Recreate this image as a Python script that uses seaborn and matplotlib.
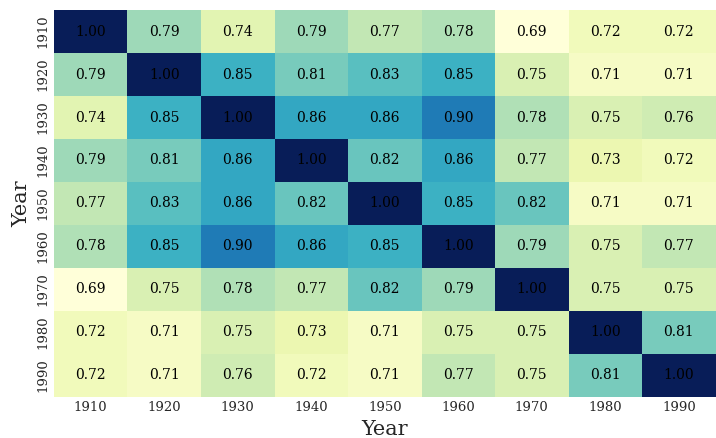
import numpy as np
import pandas as pd
import matplotlib
matplotlib.use("Agg")
import matplotlib.pyplot as plt
import seaborn as sns

years = ["1910", "1920", "1930", "1940", "1950", "1960", "1970", "1980", "1990"]
r1910 = [1.00, 0.79, 0.74, 0.79, 0.77, 0.78, 0.69, 0.72, 0.72]
r1920 = [0.79, 1.00, 0.85, 0.81, 0.83, 0.85, 0.75, 0.71, 0.71]
r1930 = [0.74, 0.85, 1.00, 0.86, 0.86, 0.90, 0.78, 0.75, 0.76]
r1940 = [0.79, 0.81, 0.86, 1.00, 0.82, 0.86, 0.77, 0.73, 0.72]
r1950 = [0.77, 0.83, 0.86, 0.82, 1.00, 0.85, 0.82, 0.71, 0.71]
r1960 = [0.78, 0.85, 0.90, 0.86, 0.85, 1.00, 0.79, 0.75, 0.77]
r1970 = [0.69, 0.75, 0.78, 0.77, 0.82, 0.79, 1.00, 0.75, 0.75]
r1980 = [0.72, 0.71, 0.75, 0.73, 0.71, 0.75, 0.75, 1.00, 0.81]
r1990 = [0.72, 0.71, 0.76, 0.72, 0.71, 0.77, 0.75, 0.81, 1.00]

df = pd.DataFrame([r1910, r1920, r1930, r1940, r1950, r1960, r1970, r1980, r1990],
                  index=pd.Index(years, name="Year"), columns=pd.Index(years, name="Year"))

sns.set_theme(style="white")
plt.rcParams['font.family'] = ['DejaVu Serif']

fig = plt.figure(figsize=(7.16, 4.38), dpi=100)
ax = fig.add_axes([0.0754, 0.094, 0.924, 0.883])
sns.heatmap(df, ax=ax, cmap="YlGnBu", annot=True, fmt=".2f", cbar=False,
            annot_kws={"color": "black", "fontsize": 10})
for t in ax.texts:
    t.set_color("black")
ax.set_xlabel("Year", fontsize=15)
ax.set_ylabel("Year", fontsize=15)
ax.tick_params(axis="both", labelsize=9.5, length=0, pad=3)
plt.setp(ax.get_yticklabels(), rotation=90, va="center")
plt.setp(ax.get_xticklabels(), rotation=0)
fig.savefig("out.png", dpi=100)
